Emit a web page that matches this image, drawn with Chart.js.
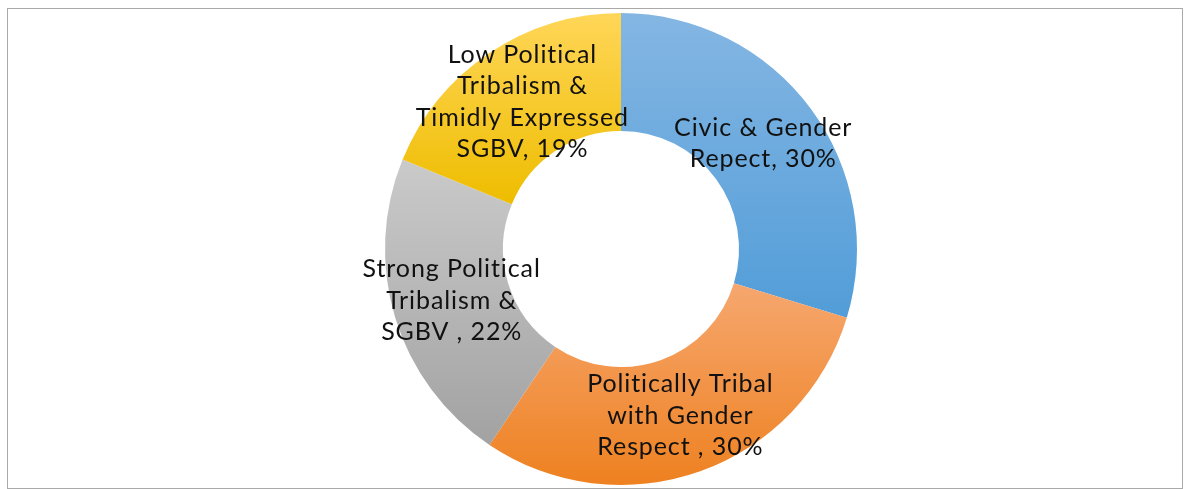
<!DOCTYPE html>
<html>
<head>
<meta charset="utf-8">
<script src="https://cdn.jsdelivr.net/npm/chart.js@4/dist/chart.umd.min.js"></script>
<style>
  html, body { margin: 0; padding: 0; background: #fff; }
  #wrap { position: relative; width: 1184px; height: 489px; }
  #frame { position: absolute; left: 7px; top: 8px; width: 1174px; height: 479px; border: 1px solid #a9a9a9; box-sizing: content-box; }
  #donut { position: absolute; left: 0; top: 0; }
</style>
</head>
<body>
<div id="wrap">
  <div id="frame"></div>
  <canvas id="donut" width="1184" height="489"></canvas>
</div>
<script>
// categories (already split into the lines shown on the chart)
const categories = [
    ['Civic & Gender', 'Repect'],
    ['Politically Tribal', 'with Gender', 'Respect '],
    ['Strong Political', 'Tribalism &', 'SGBV '],
    ['Low Political', 'Tribalism &', 'Timidly Expressed', 'SGBV']
];
const values = [30, 30, 22, 19];
// gradient colours per slice: top -> bottom
const topColors    = ['#84b6e3', '#f6a76f', '#cacaca', '#ffd658'];
const bottomColors = ['#529dd8', '#ee8120', '#a2a2a2', '#eebd00'];

// vertical gradient over each slice's own height
const sliceGradient = {
    id: 'sliceGradient',
    beforeDatasetsDraw(chart) {
        const ctx = chart.ctx;
        chart.getDatasetMeta(0).data.forEach((arc, i) => {
            const p = arc.getProps(['x', 'y', 'startAngle', 'endAngle', 'innerRadius', 'outerRadius']);
            let ys = [];
            [p.startAngle, p.endAngle].forEach(a => {
                ys.push(p.y + p.innerRadius * Math.sin(a));
                ys.push(p.y + p.outerRadius * Math.sin(a));
            });
            const has = t => {
                for (let k = -2; k <= 2; k++) {
                    const v = t + k * 2 * Math.PI;
                    if (v >= p.startAngle && v <= p.endAngle) return true;
                }
                return false;
            };
            if (has(-Math.PI / 2)) ys.push(p.y - p.outerRadius);
            if (has(Math.PI / 2)) ys.push(p.y + p.outerRadius);
            const g = ctx.createLinearGradient(0, Math.min(...ys), 0, Math.max(...ys));
            g.addColorStop(0, topColors[i]);
            g.addColorStop(1, bottomColors[i]);
            arc.options.backgroundColor = g;
        });
    }
};

// labels in the middle of each ring segment
const sliceLabels = {
    id: 'sliceLabels',
    afterDatasetsDraw(chart) {
        const ctx = chart.ctx;
        const lineH = 31.5;
        ctx.save();
        ctx.font = '25px Lato, "Open Sans", sans-serif';
        ctx.letterSpacing = '0.9px';
        ctx.fillStyle = '#111';
        ctx.textAlign = 'center';
        ctx.textBaseline = 'middle';
        chart.getDatasetMeta(0).data.forEach((arc, i) => {
            const pos = arc.tooltipPosition();
            const lines = categories[i].slice();
            lines[lines.length - 1] = lines[lines.length - 1] + ', ' + values[i] + '%';
            const y0 = pos.y - (lines.length - 1) * lineH / 2;
            lines.forEach((t, k) => ctx.fillText(t, pos.x, y0 + k * lineH));
        });
        ctx.restore();
    }
};

new Chart(document.getElementById('donut'), {
    type: 'doughnut',
    data: {
        labels: categories,
        datasets: [{
            data: values,
            backgroundColor: topColors.slice(),
            borderWidth: 0
        }]
    },
    options: {
        responsive: false,
        animation: false,
        cutout: '50%',
        layout: { padding: { left: 58, right: 0, top: 13, bottom: 4 } },
        plugins: {
            legend: { display: false },
            tooltip: { enabled: false }
        }
    },
    plugins: [sliceGradient, sliceLabels]
});
</script>
</body>
</html>
